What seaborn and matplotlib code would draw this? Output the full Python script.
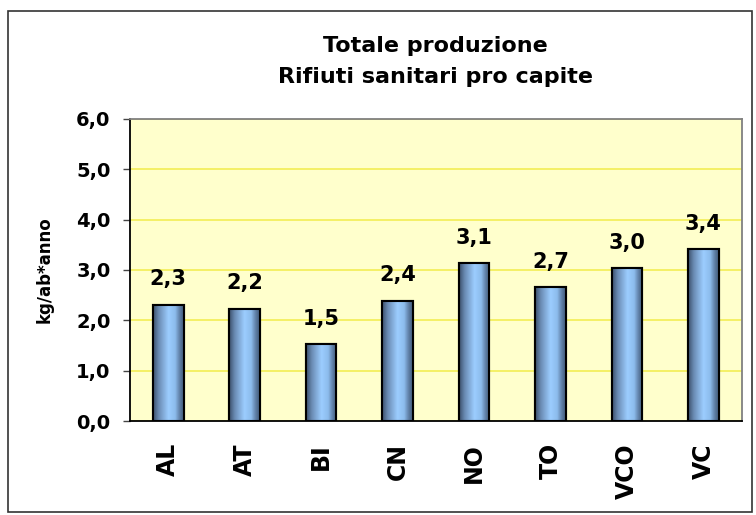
import matplotlib
matplotlib.use("Agg")
import matplotlib.pyplot as plt
from matplotlib.colors import LinearSegmentedColormap
from matplotlib.patches import Rectangle
from matplotlib.ticker import FixedLocator
import numpy as np
import pandas as pd
import seaborn as sns

# data
province = ['AL', 'AT', 'BI', 'CN', 'NO', 'TO', 'VCO', 'VC']
kg_ab = [2.31, 2.23, 1.52, 2.39, 3.14, 2.66, 3.03, 3.42]
title = 'Totale produzione\nRifiuti sanitari pro capite'
ylabel = 'kg/ab*anno'

sns.set_style("white")
plt.rcParams['font.family'] = ['DejaVu Sans']
plt.rcParams['font.weight'] = 'bold'
plt.rcParams['text.color'] = 'black'
plt.rcParams['axes.labelcolor'] = 'black'
plt.rcParams['xtick.labelcolor'] = 'black'
plt.rcParams['ytick.labelcolor'] = 'black'

df = pd.DataFrame({'prov': province, 'val': kg_ab})

fig = plt.figure(figsize=(7.56, 5.15), dpi=100)
ax = fig.add_axes([0.172, 0.1825, 0.809, 0.5865])
ax.set_facecolor('#ffffcc')

sns.barplot(data=df, x='prov', y='val', width=0.4, color='#8fb8e0',
            edgecolor='black', linewidth=1.5, ax=ax, zorder=3)

# cylinder-like shading inside each bar
shade = LinearSegmentedColormap.from_list('shade', [
    (0.0, '#3b506b'), (0.18, '#6a8bb3'), (0.5, '#9ccdff'),
    (0.72, '#8cbcec'), (0.88, '#5d7ca2'), (1.0, '#425c7b')])
grad = np.linspace(0, 1, 64).reshape(1, -1)
for p in ax.patches:
    x0, y0 = p.get_x(), p.get_y()
    w, h = p.get_width(), p.get_height()
    im = ax.imshow(grad, cmap=shade, aspect='auto', extent=[x0, x0 + w, y0, y0 + h],
                   zorder=3.5, interpolation='bilinear')
    im.set_clip_path(p)
    ax.add_patch(Rectangle((x0, y0), w, h, fill=False, edgecolor='black',
                           linewidth=1.5, zorder=4))

for i, v in enumerate(kg_ab):
    ax.annotate(f'{v:.1f}'.replace('.', ','), (i, v), xytext=(0, 11),
                textcoords='offset points', ha='center', va='bottom',
                fontsize=15, fontweight='bold')

ax.set_xlim(-0.5, len(province) - 0.5)
ax.set_ylim(0, 6)
yt = np.arange(0, 7, 1)
ax.set_yticks(yt)
ax.set_yticklabels([f'{t:.1f}'.replace('.', ',') for t in yt],
                   fontsize=14, fontweight='bold')
ax.yaxis.grid(True, color='#f2ee55', linewidth=1.2, zorder=0)
ax.set_axisbelow(True)

ax.set_xticks(range(len(province)))
ax.set_xticklabels(province, rotation=90, fontsize=17, fontweight='bold')
ax.xaxis.set_minor_locator(FixedLocator(np.arange(-0.5, len(province), 1)))
ax.tick_params(axis='x', which='major', length=0, pad=16)
ax.tick_params(axis='x', which='minor', length=5, width=1, color='#444444', direction='out')
ax.tick_params(axis='y', length=5, width=1, color='#444444', direction='out', left=True, pad=9)

ax.set_xlabel('')
ax.set_ylabel(ylabel, fontsize=12, fontweight='bold', labelpad=16)
ax.set_title(title, fontsize=16, fontweight='bold', pad=26, linespacing=1.65)

for side in ['left', 'bottom']:
    ax.spines[side].set_color('black')
    ax.spines[side].set_linewidth(1.3)
for side in ['top', 'right']:
    ax.spines[side].set_color('#808080')
    ax.spines[side].set_linewidth(1.3)
    ax.spines[side].set_visible(True)

# outer chart frame
fig.patches.append(Rectangle((0.011, 0.006), 0.984, 0.973, transform=fig.transFigure,
                             fill=False, edgecolor='#333333', linewidth=1.2))

fig.savefig("out.png", dpi=100)
